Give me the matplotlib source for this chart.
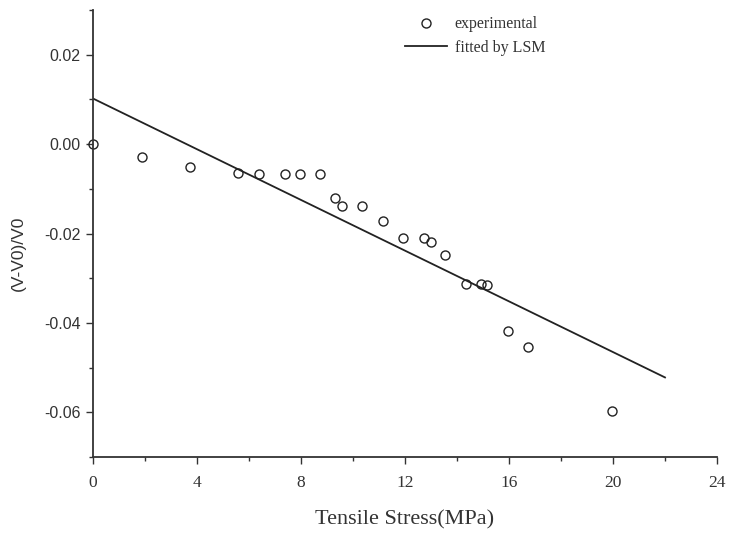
import matplotlib.pyplot as plt
from matplotlib.ticker import MultipleLocator, FormatStrFormatter

# experimental points
stress = [0.0, 1.88, 3.73, 5.58, 6.38, 7.38, 7.96, 8.73, 9.31, 9.58, 10.35,
          11.15, 11.92, 12.73, 13.0, 13.54, 14.35, 14.92, 15.15, 15.96, 16.73, 19.96]
dv = [0.0, -0.0029, -0.0051, -0.0064, -0.0067, -0.0067, -0.0067, -0.0067, -0.0120,
      -0.0138, -0.0138, -0.0173, -0.0211, -0.0211, -0.0220, -0.0247, -0.0313,
      -0.0313, -0.0316, -0.0418, -0.0453, -0.0598]

# LSM fitted line end points
fit_x = [0.0, 22.0]
fit_y = [0.0102, -0.0522]

serif = 'Liberation Serif'
sans = 'Liberation Sans'

fig = plt.figure(figsize=(7.3, 5.33), dpi=100)
ax = fig.add_axes([0.1274, 0.1426, 0.8548, 0.8386])

ax.plot(stress, dv, 'o', linestyle='none', markersize=6.5, markerfacecolor='none',
        markeredgecolor='#222222', markeredgewidth=1.0, label='experimental', clip_on=False)
ax.plot(fit_x, fit_y, '-', color='#222222', linewidth=1.3, label='fitted by LSM')

ax.set_xlim(0, 24)
ax.set_ylim(-0.07, 0.03)

ax.spines['top'].set_visible(False)
ax.spines['right'].set_visible(False)
for s in ('left', 'bottom'):
    ax.spines[s].set_linewidth(1.3)
    ax.spines[s].set_color('#333333')

ax.xaxis.set_major_locator(MultipleLocator(4))
ax.xaxis.set_minor_locator(MultipleLocator(2))
ax.yaxis.set_major_locator(MultipleLocator(0.02))
ax.yaxis.set_minor_locator(MultipleLocator(0.01))
ax.yaxis.set_major_formatter(FormatStrFormatter('%.2f'))

ax.tick_params(which='major', direction='out', length=5, width=1.0, color='#333333')
ax.tick_params(which='minor', direction='out', length=3, width=1.0, color='#333333')
ax.tick_params(axis='x', pad=8)
ax.tick_params(axis='y', pad=4)

for lbl in ax.get_xticklabels():
    lbl.set_fontfamily(serif)
    lbl.set_fontsize(12.5)
    lbl.set_color('#333333')
for lbl in ax.get_yticklabels():
    lbl.set_fontfamily(sans)
    lbl.set_fontsize(11.5)
    lbl.set_color('#333333')

ax.set_xlabel('Tensile Stress(MPa)', fontfamily=serif, fontsize=16, color='#333333', labelpad=14)
ax.set_ylabel('(V-V0)/V0', fontfamily=sans, fontsize=12.5, color='#333333')
ax.yaxis.set_label_coords(-0.108, 0.455)

leg = ax.legend(loc='upper left', bbox_to_anchor=(0.49, 1.0), frameon=False,
                prop={'family': serif, 'size': 11.5}, handlelength=2.6,
                handletextpad=0.5, labelspacing=0.45, borderaxespad=0.0)
for t in leg.get_texts():
    t.set_color('#333333')

fig.savefig('out.png', dpi=100)
